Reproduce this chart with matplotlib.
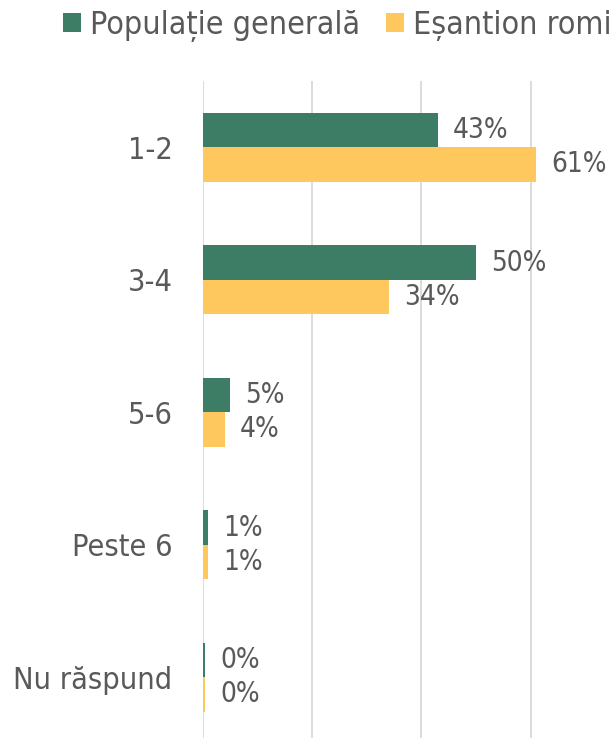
import matplotlib.pyplot as plt

categories = ['1-2', '3-4', '5-6', 'Peste 6', 'Nu răspund']
populatie = [43, 50, 5, 1, 0.3]
romi = [61, 34, 4, 1, 0.3]
series_names = ['Populație generală', 'Eșantion romi']

green = '#3E7D65'
yellow = '#FFC85F'
grey = '#595959'

plt.rcParams['font.family'] = 'DejaVu Sans'
stretch = 'condensed'

fig = plt.figure(figsize=(6.16, 7.38), dpi=100)
# axes: left at 203px, top at 81px, right/bottom at figure edge
ax = fig.add_axes([203 / 616, 0, 1 - 203 / 616, 657 / 738])

y = list(range(len(categories)))
h = 0.26
ax.barh([i - h / 2 for i in y], [v / 100 for v in populatie], height=h, color=green, label=series_names[0], zorder=3)
ax.barh([i + h / 2 for i in y], [v / 100 for v in romi], height=h, color=yellow, label=series_names[1], zorder=3)

for i in y:
    ax.text(populatie[i] / 100 + 0.028, i - h / 2, f'{populatie[i]:.0f}%', va='center', ha='left',
            fontsize=20, color=grey, fontstretch=stretch)
    ax.text(romi[i] / 100 + 0.028, i + h / 2, f'{romi[i]:.0f}%', va='center', ha='left',
            fontsize=20, color=grey, fontstretch=stretch)

ax.set_xlim(0, 413 / 546)
ax.set_ylim(-0.5 + 657 / 132.5, -0.5)
ax.set_xticks([0, 0.2, 0.4, 0.6])
ax.tick_params(axis='x', length=0, labelbottom=False)
ax.set_yticks(y)
ax.set_yticklabels(categories, fontsize=22, color=grey, fontstretch=stretch)
ax.tick_params(axis='y', length=0, pad=22)
ax.grid(axis='x', color='#D9D9D9', linewidth=1.3, zorder=0)
for s in ax.spines.values():
    s.set_visible(False)

fig.legend(loc='upper center', bbox_to_anchor=(0.548, 1.026), ncol=2, frameon=False,
           prop={'size': 23, 'stretch': stretch}, labelcolor=grey, handlelength=0.55,
           handleheight=0.55, handletextpad=0.3, columnspacing=0.8)

fig.savefig('out.png', dpi=100)
